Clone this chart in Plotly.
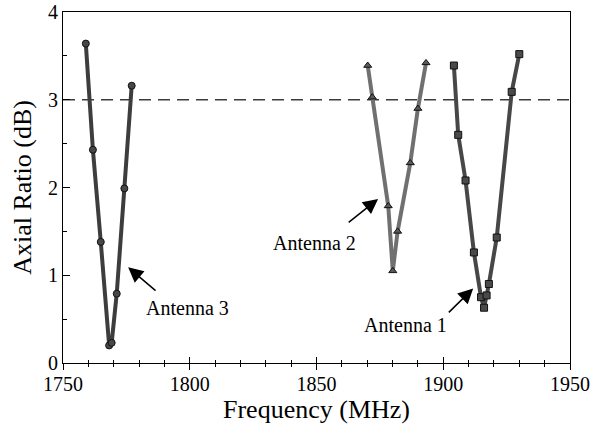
import plotly.graph_objects as go

# ---- data ----
freq_ant1 = [1904.2, 1905.9, 1908.8, 1912.1, 1914.9, 1916.1, 1917.1, 1918.0, 1921.1, 1927.0, 1930.0]
ar_ant1 = [3.39, 2.60, 2.08, 1.26, 0.75, 0.63, 0.77, 0.90, 1.43, 3.09, 3.52]

freq_ant2 = [1870.2, 1872.0, 1878.3, 1880.1, 1882.0, 1887.0, 1890.0, 1893.2]
ar_ant2 = [3.39, 3.03, 1.79, 1.05, 1.50, 2.28, 2.90, 3.42]

freq_ant3 = [1759.0, 1761.8, 1764.9, 1768.2, 1769.2, 1771.2, 1774.2, 1777.1]
ar_ant3 = [3.64, 2.43, 1.38, 0.20, 0.23, 0.79, 1.99, 3.16]

threshold_db = 3
x_range = [1750, 1950]
y_range = [0, 4]
x_ticks = [1750, 1800, 1850, 1900, 1950]
y_ticks = [0, 1, 2, 3, 4]

labels = ["Antenna 1", "Antenna 2", "Antenna 3"]
# label text centre, arrow tail, arrow tip (data coordinates)
label_pos = [(1885.1, 0.43), (1849.3, 1.37), (1799.3, 0.625)]
arrow_tail = [(1901.6, 0.56), (1862.1, 1.59), (1787.1, 0.81)]
arrow_tip = [(1911.8, 0.85), (1874.3, 1.87), (1775.7, 1.09)]

FONT = "Liberation Serif, Times New Roman, serif"

fig = go.Figure()

fig.add_trace(go.Scatter(
    x=x_range, y=[threshold_db, threshold_db], mode="lines",
    line=dict(color="#3c3c3c", width=1.5, dash="12px,7px"),
    showlegend=False, hoverinfo="skip"))

fig.add_trace(go.Scatter(
    x=freq_ant3, y=ar_ant3, mode="lines+markers", name=labels[2],
    line=dict(color="#3d3d3d", width=4),
    marker=dict(symbol="circle", size=7, color="#474747",
                line=dict(color="#111111", width=1)),
    showlegend=False))

fig.add_trace(go.Scatter(
    x=freq_ant2, y=ar_ant2, mode="lines+markers", name=labels[1],
    line=dict(color="#707070", width=4),
    marker=dict(symbol="triangle-up", size=7, color="#5a5a5a",
                line=dict(color="#111111", width=1)),
    showlegend=False))

fig.add_trace(go.Scatter(
    x=freq_ant1, y=ar_ant1, mode="lines+markers", name=labels[0],
    line=dict(color="#474747", width=4),
    marker=dict(symbol="square", size=7, color="#4a4a4a",
                line=dict(color="#111111", width=1)),
    showlegend=False))

annotations = []
for lab, (tx, ty), (ax, ay), (hx, hy) in zip(labels, label_pos, arrow_tail, arrow_tip):
    annotations.append(dict(x=tx, y=ty, xref="x", yref="y", text=lab,
                            showarrow=False, font=dict(family=FONT, size=20, color="black")))
    annotations.append(dict(x=hx, y=hy, ax=ax, ay=ay, xref="x", yref="y",
                            axref="x", ayref="y", text="", showarrow=True,
                            arrowhead=2, arrowsize=2, arrowwidth=1.5,
                            arrowcolor="black"))

tickfont = dict(family=FONT, size=20, color="black")

fig.update_layout(
    width=592, height=433,
    margin=dict(l=63, r=22, t=12, b=70),
    plot_bgcolor="white", paper_bgcolor="white",
    font=dict(family=FONT, color="black"),
    annotations=annotations,
    xaxis=dict(
        range=x_range, tickvals=x_ticks, ticks="inside", ticklen=6, tickwidth=1,
        tickcolor="black", showline=True, linecolor="black", linewidth=1,
        mirror=True, showgrid=False, zeroline=False, tickfont=tickfont,
        automargin=False, ticklabelstandoff=3,
        minor=dict(dtick=10, ticks="inside", ticklen=3, tickcolor="black"),
        title=dict(text="Frequency (MHz)", font=dict(family=FONT, size=26), standoff=4)),
    xaxis2=dict(
        range=x_range, overlaying="x", anchor="y", side="bottom",
        tickvals=x_ticks, ticks="outside", ticklen=6, tickwidth=1, tickcolor="black",
        showticklabels=False, showgrid=False, zeroline=False, showline=False,
        automargin=False,
        minor=dict(dtick=10, ticks="outside", ticklen=3, tickcolor="black")),
    yaxis=dict(
        range=y_range, tickvals=y_ticks, ticks="inside", ticklen=7, tickwidth=1,
        tickcolor="black", showline=True, linecolor="black", linewidth=1,
        mirror=True, showgrid=False, zeroline=False, tickfont=tickfont,
        automargin=False,
        minor=dict(dtick=0.5, ticks="inside", ticklen=4, tickcolor="black"),
        title=dict(text="Axial Ratio (dB)", font=dict(family=FONT, size=26), standoff=8)),
)

# dummy trace to show xaxis2 ticks
fig.add_trace(go.Scatter(x=[x_range[0]], y=[None], xaxis="x2", showlegend=False,
                         hoverinfo="skip", mode="markers"))

fig.write_html("out.html", config={"displayModeBar": False},
               post_script="document.body.style.margin='0';")
